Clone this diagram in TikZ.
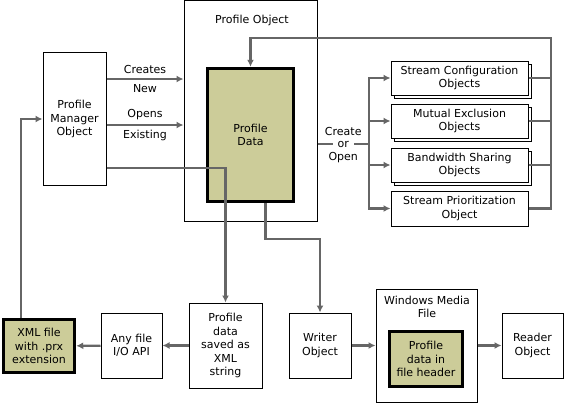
\documentclass[tikz,border=0pt]{standalone}
\usepackage{fontspec}
\setmainfont{DejaVu Sans}
\usetikzlibrary{
  arrows.meta,
  positioning,
  shadows,
  calc
}
\definecolor{lineGray}{rgb}{0.4,0.4,0.4}
\definecolor{paleOlive}{rgb}{0.8,0.8,0.6}
\tikzset{
  objbox/.style={
    draw,
    fill=white,
    line width=1pt,
    align=center,
    inner sep=0pt
  },
  databox/.style={
    draw,
    fill=paleOlive,
    line width=3.5pt,
    align=center,
    inner sep=0pt
  },
  stackbox/.style={
    objbox,
    minimum width=137pt,
    minimum height=34pt,
    copy shadow={shadow xshift=3pt, shadow yshift=-3pt}
  },
  link/.style={draw=lineGray, line width=2.2pt},
  arr/.style={link, -{Latex[length=7pt,width=7pt]}}
}

\begin{document}
\begin{tikzpicture}[
      x=1pt, y=-1pt,
      font=\fontsize{11}{13.5}\selectfont
      ]
      \useasboundingbox (0,0) rectangle (564,404);

      % upper part
      \node[objbox, minimum width=63pt, minimum height=132pt] (pmo) at (74.5,119)
        {Profile\\Manager\\Object};
      \node[objbox, minimum width=133pt, minimum height=220pt] (profobj) at (250.5,111) {};
      \node (profobjtitle) at (252,20) {Profile Object};
      \node[databox, minimum width=86pt, minimum height=133pt] (profdata) at (250.5,135)
        {Profile\\Data};

      \foreach \nm/\yy/\txt in {sconf/78/Stream Configuration\\Objects,
                              mutex/121/Mutual Exclusion\\Objects,
                              bwshare/165/Bandwidth Sharing\\Objects}{
        \node[stackbox] (\nm) at (459.5,\yy) {\txt};
      }
      \node[objbox, minimum width=137pt, minimum height=35pt] (sprio) at (459.5,208.5)
        {Stream Prioritization\\Object};

      % lower part
      \node[databox, minimum width=71pt, minimum height=53pt] (xmlfile) at (39,346)
        {XML file\\with .prx\\extension};
      \node[objbox, minimum width=61pt, minimum height=65pt] (fileio) at (131.5,345.5)
        {Any file\\I/O API};
      \node[objbox, minimum width=73pt, minimum height=85pt] (pdsave) at (225.5,345.5)
        {Profile\\data\\saved as\\XML\\string};
      \node[objbox, minimum width=62pt, minimum height=65pt] (writer) at (320,345.5)
        {Writer\\Object};
      \node[objbox, minimum width=101pt, minimum height=113pt] (wmf) at (426.5,345.5) {};
      \node[align=center] (wmftitle) at (427,307) {Windows Media\\File};
      \node[databox, minimum width=73pt, minimum height=55pt] (wmfdata) at (426,359)
        {Profile\\data in\\file header};
      \node[objbox, minimum width=61pt, minimum height=65pt] (reader) at (532.5,345.5)
        {Reader\\Object};

      \coordinate (cnew) at (0,79);
      \coordinate (copen) at (0,125);
      \coordinate (csave) at (0,168);
      \coordinate (split) at (369,144);
      \coordinate (ftop) at (551,38);

      \draw[arr] (pmo.east |- cnew) -- node[above=1pt]{Creates} node[below=1pt]{New}
        (profobj.west |- cnew);
      \draw[arr] (pmo.east |- copen) -- node[above=1pt]{Opens} node[below=1pt]{Existing}
        (profobj.west |- copen);
      \draw[arr] (pmo.east |- csave) -| (pdsave.north);
      \draw[arr] ([xshift=-18pt]xmlfile.north) |- (pmo.west);
      \draw[arr] ([xshift=15pt]profdata.south) -- ++(0,36) -| (writer.north);

      % create or open
      \draw[link] (profobj.east |- split) --
        node[fill=white, inner xsep=5pt, inner ysep=1pt] (ortext) {or} (split);
      \node[above=0pt of ortext] {Create};
      \node[below=0pt of ortext] {Open};
      \foreach \nm in {sconf,mutex,bwshare,sprio}{
        \draw[arr] (split) |- (\nm.west);
      }

      % back to the profile data
      \foreach \nm in {sconf,mutex,bwshare}{
        \draw[link] (\nm.east) -- (\nm.east -| ftop);
      }
      \draw[arr] (sprio.east) -| (ftop) -| (profdata.north);

      \draw[arr] (pdsave) -- (fileio);
      \draw[arr] (fileio) -- (xmlfile);
      \draw[arr] (writer) -- (wmf);
      \draw[arr] (wmf) -- (reader);
    \end{tikzpicture}
\end{document}
